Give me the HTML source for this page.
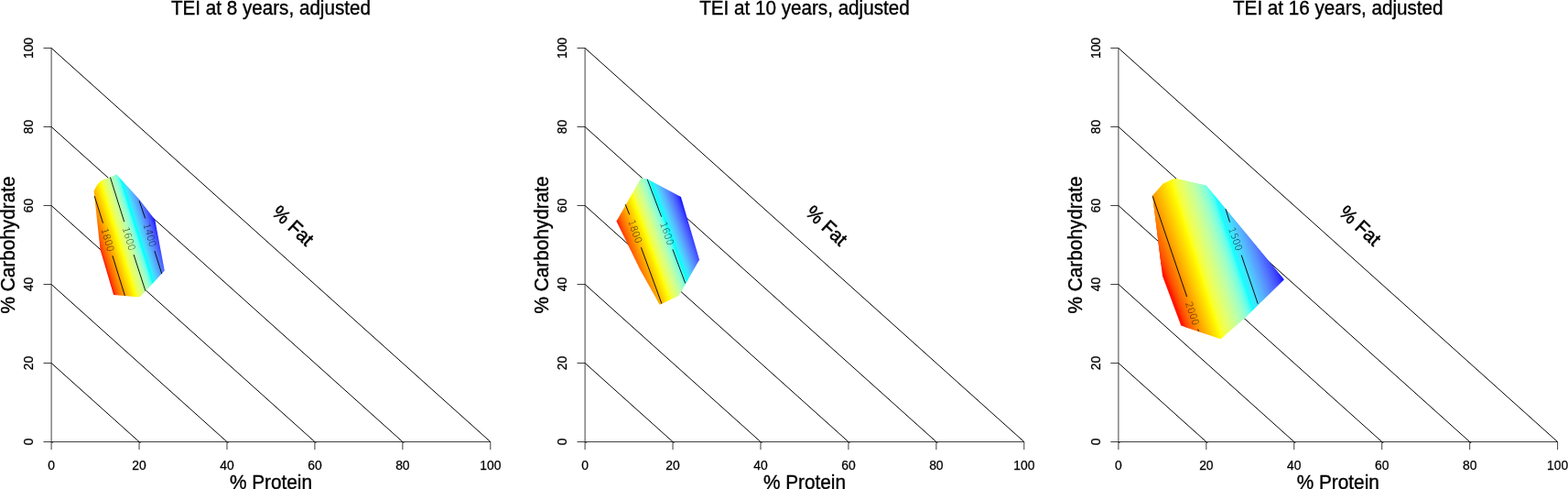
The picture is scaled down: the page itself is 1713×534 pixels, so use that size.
<!DOCTYPE html>
<html><head><meta charset="utf-8"><title>TEI adjusted</title>
<style>
html,body{margin:0;padding:0;background:#fff;}
body{width:1713px;height:534px;overflow:hidden;}
svg{display:block;}
text{font-family:"Liberation Sans", sans-serif;fill:#000;}
.t{font-size:13.87px;text-anchor:middle;stroke:#000;stroke-width:.25px;}
.l{font-size:20.8px;text-anchor:middle;stroke:#000;stroke-width:.35px;}
.c{font-family:"DejaVu Sans","Liberation Sans",sans-serif;font-weight:200;font-size:10.4px;text-anchor:middle;fill:#000;fill-opacity:.85;}
.ln{stroke:#000;stroke-width:.75;fill:none;stroke-linecap:butt;}
.dg{stroke:#000;stroke-width:1;fill:none;}
.cl{stroke:#000;stroke-width:.92;fill:none;stroke-linecap:butt;}
</style></head><body>
<svg width="1713" height="534" viewBox="0 0 1713 534">
<defs>
<linearGradient id="g0" gradientUnits="userSpaceOnUse" x1="104.26" y1="257.81" x2="168.67" y2="237.87"><stop offset="0.0000" stop-color="#ff0000"/><stop offset="0.0333" stop-color="#ff4100"/><stop offset="0.0667" stop-color="#ff5f00"/><stop offset="0.1000" stop-color="#ff7700"/><stop offset="0.1333" stop-color="#ff8d00"/><stop offset="0.1667" stop-color="#ffa100"/><stop offset="0.2000" stop-color="#ffb500"/><stop offset="0.2333" stop-color="#ffc800"/><stop offset="0.2667" stop-color="#ffdb00"/><stop offset="0.3000" stop-color="#ffed00"/><stop offset="0.3333" stop-color="#ffff00"/><stop offset="0.3667" stop-color="#f5ff3e"/><stop offset="0.4000" stop-color="#ebff5c"/><stop offset="0.4333" stop-color="#e0ff74"/><stop offset="0.4667" stop-color="#d3ff8a"/><stop offset="0.5000" stop-color="#c4ff9e"/><stop offset="0.5333" stop-color="#b3ffb2"/><stop offset="0.5667" stop-color="#9fffc6"/><stop offset="0.6000" stop-color="#86ffd9"/><stop offset="0.6333" stop-color="#62ffec"/><stop offset="0.6667" stop-color="#00ffff"/><stop offset="0.7000" stop-color="#38e9ff"/><stop offset="0.7333" stop-color="#4ad3ff"/><stop offset="0.7667" stop-color="#53beff"/><stop offset="0.8000" stop-color="#57a8ff"/><stop offset="0.8333" stop-color="#5792ff"/><stop offset="0.8667" stop-color="#547cff"/><stop offset="0.9000" stop-color="#4d66ff"/><stop offset="0.9333" stop-color="#424eff"/><stop offset="0.9667" stop-color="#3032ff"/><stop offset="1.0000" stop-color="#0000ff"/></linearGradient>
<linearGradient id="g1" gradientUnits="userSpaceOnUse" x1="684.80" y1="272.47" x2="755.50" y2="246.60"><stop offset="0.0000" stop-color="#ff0000"/><stop offset="0.0333" stop-color="#ff4100"/><stop offset="0.0667" stop-color="#ff5f00"/><stop offset="0.1000" stop-color="#ff7700"/><stop offset="0.1333" stop-color="#ff8d00"/><stop offset="0.1667" stop-color="#ffa100"/><stop offset="0.2000" stop-color="#ffb500"/><stop offset="0.2333" stop-color="#ffc800"/><stop offset="0.2667" stop-color="#ffdb00"/><stop offset="0.3000" stop-color="#ffed00"/><stop offset="0.3333" stop-color="#ffff00"/><stop offset="0.3667" stop-color="#f5ff3e"/><stop offset="0.4000" stop-color="#ebff5c"/><stop offset="0.4333" stop-color="#e0ff74"/><stop offset="0.4667" stop-color="#d3ff8a"/><stop offset="0.5000" stop-color="#c4ff9e"/><stop offset="0.5333" stop-color="#b3ffb2"/><stop offset="0.5667" stop-color="#9fffc6"/><stop offset="0.6000" stop-color="#86ffd9"/><stop offset="0.6333" stop-color="#62ffec"/><stop offset="0.6667" stop-color="#00ffff"/><stop offset="0.7000" stop-color="#38e9ff"/><stop offset="0.7333" stop-color="#4ad3ff"/><stop offset="0.7667" stop-color="#53beff"/><stop offset="0.8000" stop-color="#57a8ff"/><stop offset="0.8333" stop-color="#5792ff"/><stop offset="0.8667" stop-color="#547cff"/><stop offset="0.9000" stop-color="#4d66ff"/><stop offset="0.9333" stop-color="#424eff"/><stop offset="0.9667" stop-color="#3032ff"/><stop offset="1.0000" stop-color="#0000ff"/></linearGradient>
<linearGradient id="g2" gradientUnits="userSpaceOnUse" x1="1266.60" y1="291.50" x2="1384.39" y2="251.40"><stop offset="0.0000" stop-color="#ff0000"/><stop offset="0.0333" stop-color="#ff4100"/><stop offset="0.0667" stop-color="#ff5f00"/><stop offset="0.1000" stop-color="#ff7700"/><stop offset="0.1333" stop-color="#ff8d00"/><stop offset="0.1667" stop-color="#ffa100"/><stop offset="0.2000" stop-color="#ffb500"/><stop offset="0.2333" stop-color="#ffc800"/><stop offset="0.2667" stop-color="#ffdb00"/><stop offset="0.3000" stop-color="#ffed00"/><stop offset="0.3333" stop-color="#ffff00"/><stop offset="0.3667" stop-color="#f5ff3e"/><stop offset="0.4000" stop-color="#ebff5c"/><stop offset="0.4333" stop-color="#e0ff74"/><stop offset="0.4667" stop-color="#d3ff8a"/><stop offset="0.5000" stop-color="#c4ff9e"/><stop offset="0.5333" stop-color="#b3ffb2"/><stop offset="0.5667" stop-color="#9fffc6"/><stop offset="0.6000" stop-color="#86ffd9"/><stop offset="0.6333" stop-color="#62ffec"/><stop offset="0.6667" stop-color="#00ffff"/><stop offset="0.7000" stop-color="#38e9ff"/><stop offset="0.7333" stop-color="#4ad3ff"/><stop offset="0.7667" stop-color="#53beff"/><stop offset="0.8000" stop-color="#57a8ff"/><stop offset="0.8333" stop-color="#5792ff"/><stop offset="0.8667" stop-color="#547cff"/><stop offset="0.9000" stop-color="#4d66ff"/><stop offset="0.9333" stop-color="#424eff"/><stop offset="0.9667" stop-color="#3032ff"/><stop offset="1.0000" stop-color="#0000ff"/></linearGradient>
</defs>
<g>
<text class="l" style="font-size:20.65px" transform="translate(295.95 15.9) scale(1 1.042)">TEI at 8 years, adjusted</text>
<line class="dg" x1="56.10" y1="396.50" x2="152.04" y2="482.50"/>
<line class="dg" x1="56.10" y1="310.50" x2="247.98" y2="482.50"/>
<line class="dg" x1="56.10" y1="224.50" x2="343.92" y2="482.50"/>
<line class="dg" x1="56.10" y1="138.50" x2="439.86" y2="482.50"/>
<line class="dg" x1="56.10" y1="52.50" x2="535.80" y2="482.50"/>
<polygon points="127.4,190.5 119.0,193.9 110.6,196.9 106.1,202.0 102.6,208.6 109.5,272.5 124.1,321.9 152.4,324.5 158.9,318.3 179.8,295.5 169.3,239.9 152.0,217.6" fill="url(#g0)"/>
<path class="cl" d="M103.2 214.1L112.5 243.6M122.9 279.2L136.4 322.9"/>
<text class="c" transform="translate(117.7 261.4) rotate(73.7)" x="0.5" y="3.80">1800</text>
<path class="cl" d="M120.4 193.5L135.7 242.1M146.1 278.1L158.9 317.7"/>
<text class="c" transform="translate(140.9 260.1) rotate(73.9)" x="0.5" y="3.80">1600</text>
<path class="cl" d="M152.1 219.2L158.6 238.4M168.9 274.0L176.8 299.1"/>
<text class="c" transform="translate(163.8 256.2) rotate(73.9)" x="0.5" y="3.80">1400</text>
<path class="ln" d="M56.10 482.50H535.80M56.10 482.50v8.6M152.04 482.50v8.6M247.98 482.50v8.6M343.92 482.50v8.6M439.86 482.50v8.6M535.80 482.50v8.6M56.10 482.50V52.50M56.10 482.50h-8.6M56.10 396.50h-8.6M56.10 310.50h-8.6M56.10 224.50h-8.6M56.10 138.50h-8.6M56.10 52.50h-8.6"/>
<path d="M57.10 483.20h0M153.04 483.20h0M248.98 483.20h0M344.92 483.20h0M440.86 483.20h0" stroke="#000" stroke-width="1.3" stroke-linecap="round" fill="none"/>
<text class="t" x="56.10" y="513">0</text>
<text class="t" x="152.04" y="513">20</text>
<text class="t" x="247.98" y="513">40</text>
<text class="t" x="343.92" y="513">60</text>
<text class="t" x="439.86" y="513">80</text>
<text class="t" x="535.80" y="513">100</text>
<text class="t" transform="translate(36.40 482.50) rotate(-90)">0</text>
<text class="t" transform="translate(36.40 396.50) rotate(-90)">20</text>
<text class="t" transform="translate(36.40 310.50) rotate(-90)">40</text>
<text class="t" transform="translate(36.40 224.50) rotate(-90)">60</text>
<text class="t" transform="translate(36.40 138.50) rotate(-90)">80</text>
<text class="t" transform="translate(36.40 52.50) rotate(-90)">100</text>
<text class="l" transform="translate(295.95 533.5) scale(1 1.042)">% Protein</text>
<text class="l" transform="translate(15.70 267.5) rotate(-90) scale(1 1.042)">% Carbohydrate</text>
<text class="l" style="font-size:20.2px;stroke-width:.5px" transform="translate(320.20 246.2) rotate(43.3) scale(1 1.042)" y="6.95">% Fat</text>
</g>
<g>
<text class="l" style="font-size:20.65px" transform="translate(878.95 15.9) scale(1 1.042)">TEI at 10 years, adjusted</text>
<line class="dg" x1="639.10" y1="396.50" x2="735.04" y2="482.50"/>
<line class="dg" x1="639.10" y1="310.50" x2="830.98" y2="482.50"/>
<line class="dg" x1="639.10" y1="224.50" x2="926.92" y2="482.50"/>
<line class="dg" x1="639.10" y1="138.50" x2="1022.86" y2="482.50"/>
<line class="dg" x1="639.10" y1="52.50" x2="1118.80" y2="482.50"/>
<polygon points="700.4,194.3 707.2,195.5 743.9,214.9 764.1,283.7 741.6,322.9 720.7,332.7 699.3,294.5 673.5,241.6" fill="url(#g1)"/>
<path class="cl" d="M683.2 223.2L687.7 234.4M700.4 270.2L722.9 331.6"/>
<text class="c" transform="translate(694.0 252.3) rotate(70.5)" x="0.5" y="3.80">1800</text>
<path class="cl" d="M707.2 195.8L722.6 236.7M734.9 272.3L748.7 309.4"/>
<text class="c" transform="translate(728.8 254.5) rotate(70.9)" x="0.5" y="3.80">1600</text>
<path class="ln" d="M639.10 482.50H1118.80M639.10 482.50v8.6M735.04 482.50v8.6M830.98 482.50v8.6M926.92 482.50v8.6M1022.86 482.50v8.6M1118.80 482.50v8.6M639.10 482.50V52.50M639.10 482.50h-8.6M639.10 396.50h-8.6M639.10 310.50h-8.6M639.10 224.50h-8.6M639.10 138.50h-8.6M639.10 52.50h-8.6"/>
<path d="M640.10 483.20h0M736.04 483.20h0M831.98 483.20h0M927.92 483.20h0M1023.86 483.20h0" stroke="#000" stroke-width="1.3" stroke-linecap="round" fill="none"/>
<text class="t" x="639.10" y="513">0</text>
<text class="t" x="735.04" y="513">20</text>
<text class="t" x="830.98" y="513">40</text>
<text class="t" x="926.92" y="513">60</text>
<text class="t" x="1022.86" y="513">80</text>
<text class="t" x="1118.80" y="513">100</text>
<text class="t" transform="translate(619.40 482.50) rotate(-90)">0</text>
<text class="t" transform="translate(619.40 396.50) rotate(-90)">20</text>
<text class="t" transform="translate(619.40 310.50) rotate(-90)">40</text>
<text class="t" transform="translate(619.40 224.50) rotate(-90)">60</text>
<text class="t" transform="translate(619.40 138.50) rotate(-90)">80</text>
<text class="t" transform="translate(619.40 52.50) rotate(-90)">100</text>
<text class="l" transform="translate(878.95 533.5) scale(1 1.042)">% Protein</text>
<text class="l" transform="translate(598.70 267.5) rotate(-90) scale(1 1.042)">% Carbohydrate</text>
<text class="l" style="font-size:20.2px;stroke-width:.5px" transform="translate(903.20 246.2) rotate(43.3) scale(1 1.042)" y="6.95">% Fat</text>
</g>
<g>
<text class="l" style="font-size:20.65px" transform="translate(1461.75 15.9) scale(1 1.042)">TEI at 16 years, adjusted</text>
<line class="dg" x1="1221.90" y1="396.50" x2="1317.84" y2="482.50"/>
<line class="dg" x1="1221.90" y1="310.50" x2="1413.78" y2="482.50"/>
<line class="dg" x1="1221.90" y1="224.50" x2="1509.72" y2="482.50"/>
<line class="dg" x1="1221.90" y1="138.50" x2="1605.66" y2="482.50"/>
<line class="dg" x1="1221.90" y1="52.50" x2="1701.60" y2="482.50"/>
<clipPath id="c2"><polygon points="1283.4,194.7 1317.9,202.7 1402.7,305.2 1359.5,347.5 1333.6,370.1 1290.2,355.4 1270.0,301.5 1259.2,213.7 1270.7,200.7"/></clipPath>
<g clip-path="url(#c2)">
<path d="M1189.8 190H1233.5L1302.6 375H1259.6z" fill="#ff1500"/>
<path d="M1231.3 190H1234.9L1303.7 375H1300.7z" fill="#ff2a00"/>
<path d="M1232.8 190H1236.4L1304.8 375H1301.9z" fill="#ff3900"/>
<path d="M1234.2 190H1237.9L1306.0 375H1303.0z" fill="#ff4400"/>
<path d="M1235.7 190H1239.4L1307.1 375H1304.1z" fill="#ff4e00"/>
<path d="M1237.2 190H1240.8L1308.3 375H1305.3z" fill="#ff5700"/>
<path d="M1238.7 190H1242.3L1309.4 375H1306.4z" fill="#ff6000"/>
<path d="M1240.1 190H1243.8L1310.5 375H1307.6z" fill="#ff6800"/>
<path d="M1241.6 190H1245.2L1311.7 375H1308.7z" fill="#ff6f00"/>
<path d="M1243.1 190H1246.7L1312.8 375H1309.8z" fill="#ff7700"/>
<path d="M1244.5 190H1248.2L1314.0 375H1311.0z" fill="#ff7e00"/>
<path d="M1246.0 190H1249.7L1315.1 375H1312.1z" fill="#ff8400"/>
<path d="M1247.5 190H1251.1L1316.2 375H1313.2z" fill="#ff8b00"/>
<path d="M1249.0 190H1252.6L1317.4 375H1314.4z" fill="#ff9200"/>
<path d="M1250.4 190H1254.1L1318.5 375H1315.5z" fill="#ff9800"/>
<path d="M1251.9 190H1255.6L1319.6 375H1316.7z" fill="#ff9e00"/>
<path d="M1253.4 190H1257.0L1320.8 375H1317.8z" fill="#ffa500"/>
<path d="M1254.9 190H1258.5L1321.9 375H1318.9z" fill="#ffab00"/>
<path d="M1256.3 190H1260.0L1323.0 375H1320.1z" fill="#ffb100"/>
<path d="M1257.8 190H1261.5L1324.2 375H1321.2z" fill="#ffb700"/>
<path d="M1259.3 190H1263.0L1325.3 375H1322.3z" fill="#ffbd00"/>
<path d="M1260.8 190H1264.4L1326.5 375H1323.5z" fill="#ffc300"/>
<path d="M1262.2 190H1265.9L1327.6 375H1324.6z" fill="#ffc900"/>
<path d="M1263.7 190H1267.4L1328.7 375H1325.8z" fill="#ffce00"/>
<path d="M1265.2 190H1268.9L1329.9 375H1326.9z" fill="#ffd400"/>
<path d="M1266.7 190H1270.3L1331.0 375H1328.0z" fill="#ffda00"/>
<path d="M1268.2 190H1271.8L1332.2 375H1329.2z" fill="#ffe000"/>
<path d="M1269.6 190H1273.3L1333.3 375H1330.3z" fill="#ffe500"/>
<path d="M1271.1 190H1274.8L1334.4 375H1331.5z" fill="#ffeb00"/>
<path d="M1272.6 190H1276.2L1335.6 375H1332.6z" fill="#fff100"/>
<path d="M1274.0 190H1277.7L1336.7 375H1333.7z" fill="#fff700"/>
<path d="M1275.5 190H1279.0L1338.1 375H1334.9z" fill="#fffc00"/>
<path d="M1277.0 190H1280.4L1339.5 375H1336.0z" fill="#feff14"/>
<path d="M1278.3 190H1281.7L1340.9 375H1337.4z" fill="#fbff29"/>
<path d="M1279.7 190H1283.0L1342.2 375H1338.8z" fill="#f8ff36"/>
<path d="M1281.0 190H1284.4L1343.6 375H1340.2z" fill="#f5ff42"/>
<path d="M1282.3 190H1285.7L1345.0 375H1341.5z" fill="#f1ff4b"/>
<path d="M1283.7 190H1287.0L1346.4 375H1342.9z" fill="#eeff54"/>
<path d="M1285.0 190H1288.4L1347.8 375H1344.3z" fill="#ebff5d"/>
<path d="M1286.3 190H1289.7L1349.2 375H1345.7z" fill="#e7ff65"/>
<path d="M1287.7 190H1291.0L1350.6 375H1347.1z" fill="#e4ff6c"/>
<path d="M1289.0 190H1292.4L1352.0 375H1348.5z" fill="#e0ff73"/>
<path d="M1290.3 190H1293.7L1353.4 375H1349.9z" fill="#dcff7a"/>
<path d="M1291.7 190H1295.0L1354.7 375H1351.3z" fill="#d8ff81"/>
<path d="M1293.0 190H1296.4L1356.1 375H1352.7z" fill="#d4ff88"/>
<path d="M1294.3 190H1297.7L1357.5 375H1354.0z" fill="#d0ff8e"/>
<path d="M1295.7 190H1299.0L1358.9 375H1355.4z" fill="#cbff95"/>
<path d="M1297.0 190H1300.4L1360.3 375H1356.8z" fill="#c7ff9b"/>
<path d="M1298.3 190H1301.7L1361.7 375H1358.2z" fill="#c2ffa2"/>
<path d="M1299.7 190H1303.1L1363.1 375H1359.6z" fill="#bdffa8"/>
<path d="M1301.0 190H1304.4L1364.5 375H1361.0z" fill="#b7ffae"/>
<path d="M1302.4 190H1305.7L1365.8 375H1362.4z" fill="#b2ffb4"/>
<path d="M1303.7 190H1307.1L1367.2 375H1363.8z" fill="#acffba"/>
<path d="M1305.0 190H1308.4L1368.6 375H1365.1z" fill="#a5ffc0"/>
<path d="M1306.4 190H1309.7L1370.0 375H1366.5z" fill="#9fffc6"/>
<path d="M1307.7 190H1311.1L1371.4 375H1367.9z" fill="#97ffcc"/>
<path d="M1309.0 190H1312.4L1372.8 375H1369.3z" fill="#8fffd2"/>
<path d="M1310.4 190H1313.7L1374.2 375H1370.7z" fill="#87ffd8"/>
<path d="M1311.7 190H1315.1L1375.6 375H1372.1z" fill="#7dffde"/>
<path d="M1313.0 190H1316.4L1376.9 375H1373.5z" fill="#72ffe4"/>
<path d="M1314.4 190H1317.7L1378.3 375H1374.9z" fill="#66ffea"/>
<path d="M1315.7 190H1319.1L1379.7 375H1376.2z" fill="#57fff0"/>
<path d="M1317.0 190H1320.4L1381.1 375H1377.6z" fill="#44fff6"/>
<path d="M1318.4 190H1321.8L1382.5 375H1379.0z" fill="#26fffc"/>
<path d="M1319.7 190H1323.1L1384.0 375H1380.4z" fill="#14fcff"/>
<path d="M1321.1 190H1324.5L1385.4 375H1381.8z" fill="#27f5ff"/>
<path d="M1322.4 190H1325.9L1386.9 375H1383.3z" fill="#32eeff"/>
<path d="M1323.8 190H1327.2L1388.3 375H1384.7z" fill="#3be7ff"/>
<path d="M1325.2 190H1328.6L1389.7 375H1386.2z" fill="#41e0ff"/>
<path d="M1326.5 190H1330.0L1391.2 375H1387.6z" fill="#46d9ff"/>
<path d="M1327.9 190H1331.4L1392.6 375H1389.0z" fill="#4ad3ff"/>
<path d="M1329.3 190H1332.7L1394.0 375H1390.5z" fill="#4eccff"/>
<path d="M1330.7 190H1334.1L1395.5 375H1391.9z" fill="#51c5ff"/>
<path d="M1332.0 190H1335.5L1396.9 375H1393.3z" fill="#53beff"/>
<path d="M1333.4 190H1336.8L1398.4 375H1394.8z" fill="#55b8ff"/>
<path d="M1334.8 190H1338.2L1399.8 375H1396.2z" fill="#56b1ff"/>
<path d="M1336.1 190H1339.6L1401.2 375H1397.7z" fill="#57aaff"/>
<path d="M1337.5 190H1340.9L1402.7 375H1399.1z" fill="#57a3ff"/>
<path d="M1338.9 190H1342.3L1404.1 375H1400.5z" fill="#589cff"/>
<path d="M1340.2 190H1343.7L1405.5 375H1402.0z" fill="#5796ff"/>
<path d="M1341.6 190H1345.0L1407.0 375H1403.4z" fill="#578fff"/>
<path d="M1343.0 190H1346.4L1408.4 375H1404.8z" fill="#5688ff"/>
<path d="M1344.3 190H1347.8L1409.9 375H1406.3z" fill="#5581ff"/>
<path d="M1345.7 190H1349.1L1411.3 375H1407.7z" fill="#537aff"/>
<path d="M1347.1 190H1350.5L1412.7 375H1409.2z" fill="#5273ff"/>
<path d="M1348.4 190H1351.9L1414.2 375H1410.6z" fill="#4f6cff"/>
<path d="M1349.8 190H1353.2L1415.6 375H1412.0z" fill="#4d65ff"/>
<path d="M1351.2 190H1354.6L1417.0 375H1413.5z" fill="#4a5eff"/>
<path d="M1352.5 190H1356.0L1418.5 375H1414.9z" fill="#4656ff"/>
<path d="M1353.9 190H1357.4L1419.9 375H1416.3z" fill="#424fff"/>
<path d="M1355.3 190H1358.7L1421.4 375H1417.8z" fill="#3e47ff"/>
<path d="M1356.7 190H1360.1L1422.8 375H1419.2z" fill="#383eff"/>
<path d="M1358.0 190H1361.5L1424.2 375H1420.7z" fill="#3235ff"/>
<path d="M1359.4 190H1362.8L1425.7 375H1422.1z" fill="#2a2bff"/>
<path d="M1360.8 190H1364.2L1427.1 375H1423.5z" fill="#201fff"/>
<path d="M1362.1 190H1403.5L1466.4 375H1425.0z" fill="#0f0eff"/>
</g>
<path class="cl" d="M1259.2 214.2L1296.6 324.0M1308.6 359.6L1309.7 361.7"/>
<text class="c" transform="translate(1302.6 341.8) rotate(71.4)" x="0.5" y="3.80">2000</text>
<path class="cl" d="M1339.0 228.2L1343.5 242.6M1356.2 278.6L1374.2 331.7"/>
<text class="c" transform="translate(1349.8 260.6) rotate(70.6)" x="0.5" y="3.80">1500</text>
<path class="ln" d="M1221.90 482.50H1701.60M1221.90 482.50v8.6M1317.84 482.50v8.6M1413.78 482.50v8.6M1509.72 482.50v8.6M1605.66 482.50v8.6M1701.60 482.50v8.6M1221.90 482.50V52.50M1221.90 482.50h-8.6M1221.90 396.50h-8.6M1221.90 310.50h-8.6M1221.90 224.50h-8.6M1221.90 138.50h-8.6M1221.90 52.50h-8.6"/>
<path d="M1222.90 483.20h0M1318.84 483.20h0M1414.78 483.20h0M1510.72 483.20h0M1606.66 483.20h0" stroke="#000" stroke-width="1.3" stroke-linecap="round" fill="none"/>
<text class="t" x="1221.90" y="513">0</text>
<text class="t" x="1317.84" y="513">20</text>
<text class="t" x="1413.78" y="513">40</text>
<text class="t" x="1509.72" y="513">60</text>
<text class="t" x="1605.66" y="513">80</text>
<text class="t" x="1701.60" y="513">100</text>
<text class="t" transform="translate(1202.20 482.50) rotate(-90)">0</text>
<text class="t" transform="translate(1202.20 396.50) rotate(-90)">20</text>
<text class="t" transform="translate(1202.20 310.50) rotate(-90)">40</text>
<text class="t" transform="translate(1202.20 224.50) rotate(-90)">60</text>
<text class="t" transform="translate(1202.20 138.50) rotate(-90)">80</text>
<text class="t" transform="translate(1202.20 52.50) rotate(-90)">100</text>
<text class="l" transform="translate(1461.75 533.5) scale(1 1.042)">% Protein</text>
<text class="l" transform="translate(1181.50 267.5) rotate(-90) scale(1 1.042)">% Carbohydrate</text>
<text class="l" style="font-size:20.2px;stroke-width:.5px" transform="translate(1486.00 246.2) rotate(43.3) scale(1 1.042)" y="6.95">% Fat</text>
</g>
</svg></body></html>
